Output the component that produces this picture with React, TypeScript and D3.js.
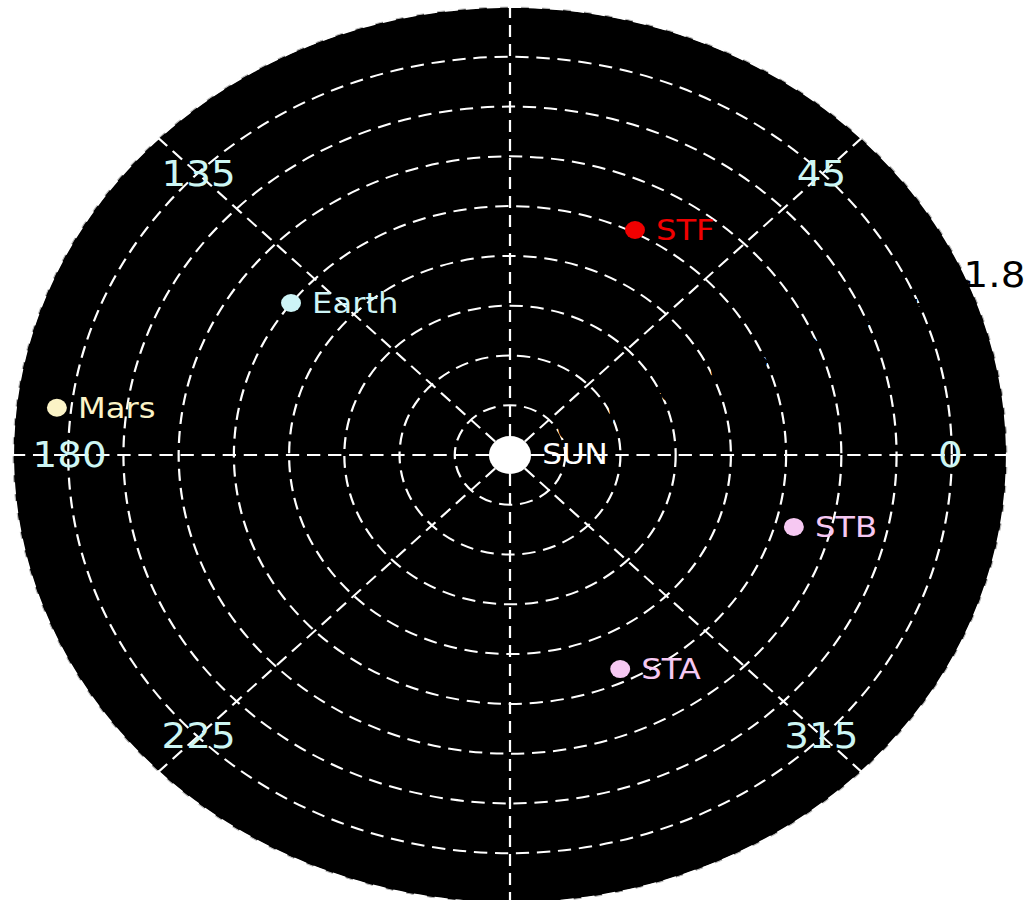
import React from "react";
import * as d3 from "d3";

// Heliocentric positions (distance in AU, longitude in degrees)
const bodyNames = ["Mars", "Earth", "STF", "STB", "STA"];
const bodyR = [1.652, 1.001, 1.011, 1.068, 0.948];
const bodyTheta = [173.4, 142.4, 63.4, 344.3, 294.9];
const bodyColors = ["#fbf3c6", "#cdf4f6", "#f00000", "#f6c8f2", "#f6c8f2"];

const ringValues = [0.2, 0.4, 0.6, 0.8, 1.0, 1.2, 1.4, 1.6, 1.8];
const ringLabels = ["0.2", "0.4", "0.6", "0.8", "1.0", "1.2", "1.4", "1.6", "1.8"];
const spokeAngles = [0, 45, 90, 135, 180, 225, 270, 315];
const angleLabelValues = [0, 45, 135, 180, 225, 315];
const angleLabels = ["0", "45", "135", "180", "225", "315"];

const W = 1030;
const H = 900;
const CX = 510;
const CY = 455;
const RY = 448;
const RX = 497;
const SX = RX / RY;
const R_MAX = 1.8;
const FONT = "DejaVu Sans, sans-serif";

export default function App() {
  const r = d3.scaleLinear().domain([0, R_MAX]).range([0, RY]);
  const pt = (rv: number, deg: number) => {
    const a = (deg * Math.PI) / 180;
    return [r(rv) * Math.cos(a), -r(rv) * Math.sin(a)];
  };
  const disc = d3.arc()({
    innerRadius: 0,
    outerRadius: r(R_MAX),
    startAngle: 0,
    endAngle: 2 * Math.PI,
  } as any) as string;

  const dash = "12,7";
  const rlabelAngle = 22.5;

  return (
    <svg
      width={W}
      height={H}
      style={{ position: "fixed", left: 0, top: 0, background: "#ffffff" }}
    >
      <g transform={`translate(${CX},${CY}) scale(${SX},1)`}>
        <path d={disc} fill="#000000" stroke="#bbbbbb" strokeWidth={1} />
        {ringValues.map((v) => (
          <circle
            key={`ring-${v}`}
            r={r(v)}
            fill="none"
            stroke="#ffffff"
            strokeWidth={2}
            strokeDasharray={dash}
          />
        ))}
        {spokeAngles.map((a) => {
          const [x, y] = pt(R_MAX, a);
          return (
            <line
              key={`spoke-${a}`}
              x1={0}
              y1={0}
              x2={x}
              y2={y}
              stroke="#ffffff"
              strokeWidth={2}
              strokeDasharray={dash}
            />
          );
        })}
        {ringValues.map((v, i) => {
          const [x, y] = pt(v, rlabelAngle);
          return (
            <text
              key={`rl-${v}`}
              x={x - 5}
              y={y + 3}
              fill="#000000"
              fontFamily={FONT}
              fontSize={35}
              textAnchor="start"
            >
              {ringLabels[i]}
            </text>
          );
        })}
        {angleLabelValues.map((a, i) => {
          const [x, y] = pt(1.595, a);
          return (
            <text
              key={`al-${a}`}
              x={x}
              y={y}
              fill="#cdf6f3"
              fontFamily={FONT}
              fontSize={35}
              textAnchor="middle"
              dominantBaseline="central"
            >
              {angleLabels[i]}
            </text>
          );
        })}
        <circle cx={0} cy={0} r={19} fill="#ffffff" />
        <text
          x={29}
          y={0}
          fill="#ffffff"
          fontFamily={FONT}
          fontSize={28}
          dominantBaseline="central"
        >
          SUN
        </text>
        {bodyNames.map((name, i) => {
          const [x, y] = pt(bodyR[i], bodyTheta[i]);
          return (
            <g key={name}>
              <circle cx={x} cy={y} r={9} fill={bodyColors[i]} />
              <text
                x={x + 19}
                y={y}
                fill={bodyColors[i]}
                fontFamily={FONT}
                fontSize={29}
                dominantBaseline="central"
              >
                {name}
              </text>
            </g>
          );
        })}
      </g>
    </svg>
  );
}
